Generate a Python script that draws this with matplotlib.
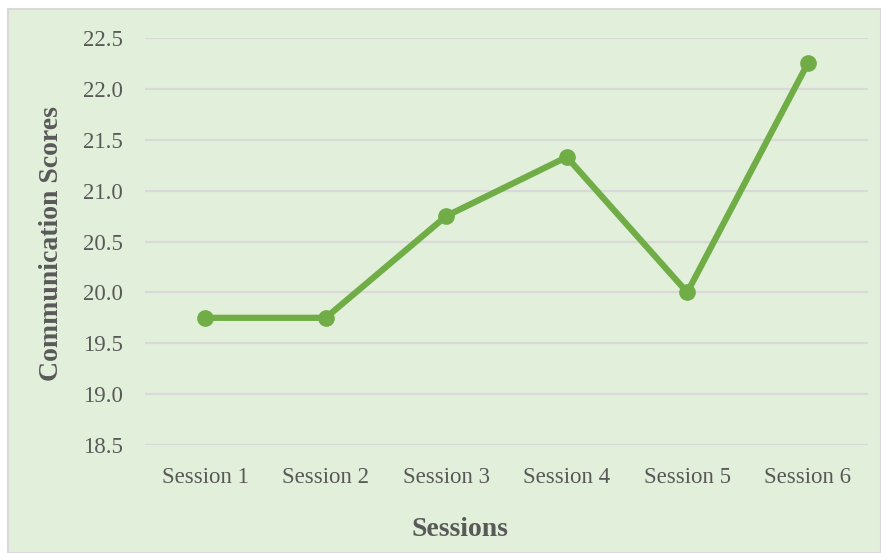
import matplotlib.pyplot as plt
from matplotlib.patches import Rectangle

sessions = ["Session 1", "Session 2", "Session 3", "Session 4", "Session 5", "Session 6"]
scores = [19.75, 19.75, 20.75, 21.33, 20.0, 22.25]
yticks = [18.5, 19.0, 19.5, 20.0, 20.5, 21.0, 21.5, 22.0, 22.5]

BG = "#E2EFDA"
GREEN = "#70AD47"
TEXT = "#595959"
GRID = "#D9D9D9"

plt.rcParams["font.family"] = ["Liberation Serif", "DejaVu Serif"]

W, H = 881, 553
fig = plt.figure(figsize=(W / 100, H / 100), dpi=100)
fig.patch.set_facecolor("white")
fig.patches.append(Rectangle((8 / W, 0), 1 - 8 / W, 1 - 9 / H, transform=fig.transFigure,
                             facecolor=BG, edgecolor=GRID, linewidth=1.5, zorder=-10))

ax = fig.add_axes([145 / W, (H - 445) / H, (868 - 145) / W, (445 - 38) / H])
ax.set_facecolor("none")
x = list(range(len(sessions)))
ax.plot(x, scores, color=GREEN, linewidth=4.5, marker="o", markersize=11,
        solid_capstyle="round", zorder=3)

ax.set_xlim(-0.5, len(sessions) - 0.5)
ax.set_ylim(yticks[0], yticks[-1])
ax.set_yticks(yticks)
ax.set_yticklabels([f"{v:.1f}" for v in yticks])
ax.set_xticks(x)
ax.set_xticklabels(sessions)
ax.grid(axis="y", color=GRID, linewidth=1.6)
ax.set_axisbelow(True)
for s in ax.spines.values():
    s.set_visible(False)
ax.tick_params(length=0, labelsize=16.5, labelcolor=TEXT)
ax.tick_params(axis="y", pad=16)
ax.tick_params(axis="x", pad=16)

fig.text(52 / W, 1 - 244 / H, "Communication Scores", rotation=90, ha="center", va="center",
         fontsize=20, fontweight="bold", color=TEXT)
fig.text(460 / W, 1 - 529 / H, "Sessions", ha="center", va="center",
         fontsize=20, fontweight="bold", color=TEXT)

fig.savefig("out.png", dpi=100)
